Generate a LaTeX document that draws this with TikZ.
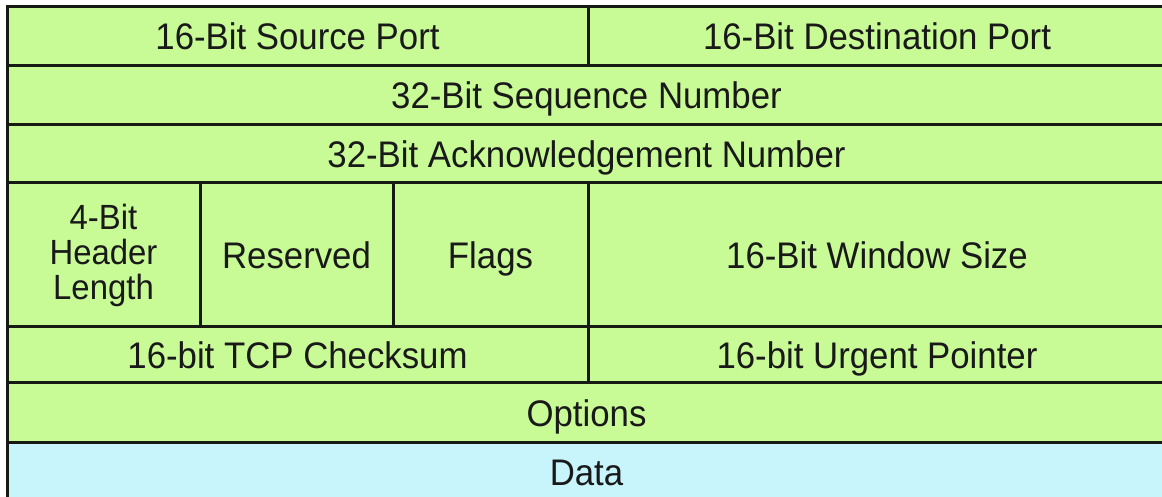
\documentclass[tikz,border=0pt]{standalone}
\usepackage{fontspec}
\setmainfont[FakeStretch=0.94]{Liberation Sans}
\definecolor{hdrgreen}{RGB}{200,250,150}
\definecolor{datablue}{RGB}{200,244,252}
\definecolor{rulecol}{RGB}{22,26,18}
\begin{document}
\begin{tikzpicture}[x=0.5pt,y=0.5pt]
\tikzset{
  fieldbase/.style={rectangle,draw=rulecol,line width=1.5pt,fill=hdrgreen,inner sep=0pt,
    text=black!90,align=center,font=\fontsize{18.5}{16}\selectfont},
  field/.style={fieldbase,text height=17.3pt,text depth=4pt},
  datafield/.style={field,fill=datablue}
}
\clip (0,0) rectangle (1162,497);
\fill[white] (0,0) rectangle (1162,497);
% header rows, one node per field
\node[field,minimum width=290.5pt,minimum height=29.5pt] (f_src) at (297.5,460.5) {16-Bit Source Port};
\node[field,minimum width=289pt,minimum height=29.5pt] (f_dst) at (877,460.5) {16-Bit Destination Port};
\node[field,minimum width=579.5pt,minimum height=29.5pt] (f_seq) at (586.5,401.5) {32-Bit Sequence Number};
\node[field,minimum width=579.5pt,minimum height=29pt] (f_ack) at (586.5,343) {32-Bit Acknowledgement Number};
\node[fieldbase,minimum width=96.5pt,minimum height=72pt,font=\fontsize{17.5}{17.5}\selectfont] (f_hlen) at (103.5,242) {4-Bit\\Header\\Length};
\node[field,minimum width=96.5pt,minimum height=72pt] (f_rsvd) at (296.5,242) {Reserved};
\node[field,minimum width=97.5pt,minimum height=72pt] (f_flags) at (490.5,242) {Flags};
\node[field,minimum width=289pt,minimum height=72pt] (f_win) at (877,242) {16-Bit Window Size};
\node[field,minimum width=290.5pt,minimum height=28pt] (f_csum) at (297.5,142) {16-bit TCP Checksum};
\node[field,minimum width=289pt,minimum height=28pt] (f_urg) at (877,142) {16-bit Urgent Pointer};
\node[field,minimum width=579.5pt,minimum height=30pt] (f_opt) at (586.5,84) {Options};
\node[datafield,minimum width=579.5pt,minimum height=29pt] (f_data) at (586.5,25) {Data};
\end{tikzpicture}
\end{document}
